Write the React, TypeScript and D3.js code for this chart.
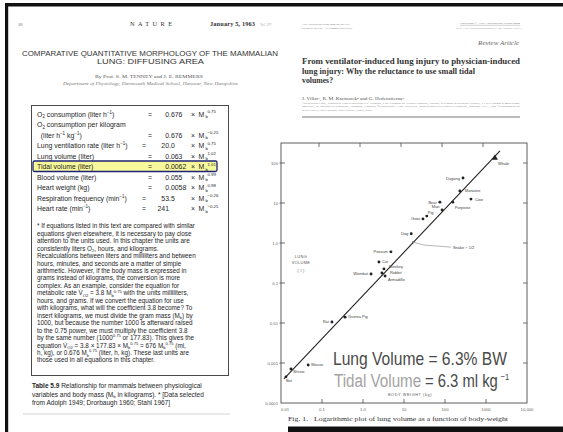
import React from 'react';
import * as d3 from 'd3';

const WIDTH = 563;
const HEIGHT = 432;

const SANS = "'Liberation Sans', Arial, Helvetica, sans-serif";
const SERIF = "'Liberation Serif', 'Times New Roman', serif";

// ---- Fig. 1: lung volume against body weight, log–log ----
const animals = ['Whale', 'Dugong', 'Manatee', 'Cow', 'Bear', 'Porpoise', 'Man', 'Pig', 'Goat', 'Dog', 'Possum', 'Cat', 'Monkey', 'Wombat', 'Rabbit', 'Armadillo', 'Guinea Pig', 'Rat', 'Mouse', 'Shrew', 'Bat'];
const bodyWeightKg = [1650, 275, 230, 430, 75, 155, 85, 36, 29, 15, 4.8, 2.45, 3.25, 1.57, 2.9, 3.45, 0.365, 0.175, 0.046, 0.0175, 0.0132];
const lungVolumeL = [133, 42, 20, 12.5, 10.5, 10.5, 6.7, 4.7, 4.0, 1.7, 0.6, 0.335, 0.225, 0.168, 0.178, 0.15, 0.014, 0.0106, 0.00089, 0.00071, 0.00045];
const snakeWeightKg = [16.5];
const snakeLungVolumeL = [1.05];
const fitWeightKg = [0.0118, 2190];
const fitLungVolumeL = [0.0004, 200];

const xTickValues = [0.01, 0.1, 1, 10, 100, 1000, 10000];
const xTickLabels = ['0.01', '0.1', '1.0', '10', '100', '1000', '10,000'];
const yTickValues = [0.0001, 0.001, 0.01, 0.1, 1, 10, 100];
const yTickLabels = ['0.0001', '0.001', '0.01', '0.1', '1.0', '10', '100'];

// label offsets from each point: dx, dy, anchor
const labelLayout: Record<string, [number, number, 'start' | 'end']> = {
  Whale: [3, 7, 'start'],
  Dugong: [-3, 1.5, 'end'],
  Manatee: [5, 1.5, 'start'],
  Cow: [4, 1.5, 'start'],
  Bear: [-3, 1.5, 'end'],
  Porpoise: [2, 6.5, 'start'],
  Man: [-2.5, -1.5, 'end'],
  Pig: [1, -2.5, 'start'],
  Goat: [-3, 1.5, 'end'],
  Dog: [-3, 1.5, 'end'],
  Possum: [-3, 1.5, 'end'],
  Cat: [3, 1.5, 'start'],
  Monkey: [5, -0.5, 'start'],
  Wombat: [-3, 1.5, 'end'],
  Rabbit: [8, 1, 'start'],
  Armadillo: [3, 5, 'start'],
  'Guinea Pig': [3, 1, 'start'],
  Rat: [-3, 1.5, 'end'],
  Mouse: [3, 0.5, 'start'],
  Shrew: [2, 4.5, 'start'],
  Bat: [0, 5.5, 'start'],
};

// ---- Table 5.9 ----
const tableLabels = [
  ['O_{2} consumption (liter h^{−1})'],
  ['O_{2} consumption per kilogram', '  (liter h^{−1} kg^{−1})'],
  ['Lung ventilation rate (liter h^{−1})'],
  ['Lung volume (liter)'],
  ['Tidal volume (liter)'],
  ['Blood volume (liter)'],
  ['Heart weight (kg)'],
  ['Respiration frequency (min^{−1})'],
  ['Heart rate (min^{−1})'],
];
const tableCoefficients = ['0.676', '0.676', '20.0', '0.063', '0.0062', '0.055', '0.0058', '53.5', '241'];
const tableExponents = ['0.75', '−0.25', '0.75', '1.02', '1.01', '0.99', '0.98', '−0.26', '−0.25'];
const highlightedRow = 'Tidal volume (liter)';

const tableNoteLines = [
  '* If equations listed in this text are compared with similar',
  'equations given elsewhere, it is necessary to pay close',
  'attention to the units used. In this chapter the units are',
  'consistently liters O_{2}, hours, and kilograms.',
  'Recalculations between liters and milliliters and between',
  'hours, minutes, and seconds are a matter of simple',
  'arithmetic. However, if the body mass is expressed in',
  'grams instead of kilograms, the conversion is more',
  'complex. As an example, consider the equation for',
  'metabolic rate V̇_{O2} = 3.8 M_{b}^{0.75} with the units milliliters,',
  'hours, and grams. If we convert the equation for use',
  'with kilograms, what will the coefficient 3.8 become? To',
  'insert kilograms, we must divide the gram mass (M_{b}) by',
  '1000, but because the number 1000 is afterward raised',
  'to the 0.75 power, we must multiply the coefficient 3.8',
  'by the same number (1000^{0.75} or 177.83). This gives the',
  'equation V̇_{O2} = 3.8 × 177.83 × M_{b}^{0.75} = 676 M_{b}^{0.75} (ml,',
  'h, kg), or 0.676 M_{b}^{0.75} (liter, h, kg). These last units are',
  'those used in all equations in this chapter.',
];
const tableCaptionLines = [
  ' Relationship for mammals between physiological',
  'variables and body mass (M_{b} in kilograms). * [Data selected',
  'from Adolph 1949; Drorbaugh 1960; Stahl 1967]',
];

const affiliationLines = [
  '¹Research Unit, Hospital Universitario Dr. Negrín, Las Palmas de Gran Canaria, Spain; Keenan Research Center, Li Ka Shing Knowledge',
  'Institute, St Michael’s Hospital, Toronto, Canada; ²Respiratory Care Services, Massachusetts General Hospital, Boston, USA, and ³Department of',
  'Medical Sciences, Clinical Physiology, Uppsala University, Uppsala, Sweden',
];

// text with ^{sup} and _{sub} runs
function rich(s: string, fs: number) {
  const parts: { t: string; k: 'n' | 'sup' | 'sub' }[] = [];
  const re = /(\^\{[^}]*\}|_\{[^}]*\})/g;
  let last = 0;
  let m: RegExpExecArray | null;
  while ((m = re.exec(s))) {
    if (m.index > last) parts.push({ t: s.slice(last, m.index), k: 'n' });
    parts.push({ t: m[0].slice(2, -1), k: m[0][0] === '^' ? 'sup' : 'sub' });
    last = re.lastIndex;
  }
  if (last < s.length) parts.push({ t: s.slice(last), k: 'n' });
  let cur = 0;
  return parts.map((p, i) => {
    const target = p.k === 'sup' ? -fs * 0.42 : p.k === 'sub' ? fs * 0.25 : 0;
    const dy = target - cur;
    cur = target;
    return (
      <tspan key={i} dy={dy !== 0 ? dy : undefined} fontSize={p.k === 'n' ? undefined : fs * 0.65}>
        {p.t}
      </tspan>
    );
  });
}

function LeftPage() {
  const rowFs = 6.9;
  const rowBase = 116.5;
  const rowStep = 10.5;
  let line = 0;
  const rows = tableLabels.map((labels, i) => {
    const start = line;
    line += labels.length;
    const valueLine = line - 1;
    const yb = rowBase + rowStep * valueLine;
    const [intPart, fracPart] = tableCoefficients[i].split('.');
    const eqX = intPart.length > 1 ? 144 : 150;
    const isHi = labels[0] === highlightedRow;
    return (
      <g key={i}>
        {isHi && (
          <rect x={33} y={yb - 8} width={184} height={10.5} rx={1.5} fill="#f4f47a" fillOpacity={0.75} stroke="#1c2374" strokeWidth={1.3} />
        )}
        {labels.map((l, j) => (
          <text key={j} x={37} y={rowBase + rowStep * (start + j)} fontSize={rowFs} style={{ whiteSpace: 'pre' }}>
            {rich(l, rowFs)}
          </text>
        ))}
        <text x={eqX} y={yb} fontSize={rowFs} textAnchor="middle">=</text>
        <text x={169} y={yb} fontSize={rowFs} textAnchor="end">{intPart}</text>
        {fracPart !== undefined && <text x={169} y={yb} fontSize={rowFs}>{'.' + fracPart}</text>}
        <text x={193} y={yb} fontSize={rowFs} textAnchor="middle">×</text>
        <text x={198.5} y={yb} fontSize={rowFs}>M</text>
        <text x={205.5} y={yb + 1.6} fontSize={4.3}>b</text>
        <text x={207.5} y={yb - 3.4} fontSize={4.3}>{tableExponents[i]}</text>
      </g>
    );
  });

  return (
    <g fontFamily={SANS} fill="#1e1e1e">
      {/* running head */}
      <text x={18} y={25.5} fontFamily={SERIF} fontSize={4.5} fill="#555">16</text>
      <text x={130} y={26} fontFamily={SERIF} fontSize={6.3} textLength={42} lengthAdjust="spacing" fill="#333">NATURE</text>
      <text x={210} y={26} fontFamily={SERIF} fontSize={6.3} fontWeight="bold" textLength={45} fill="#333">January 5, 1963</text>
      <text x={260} y={26} fontFamily={SERIF} fontSize={3.4} fill="#aaa">Vol. 197</text>

      {/* article head */}
      <text x={22} y={55.5} fontSize={7} textLength={256} lengthAdjust="spacingAndGlyphs" fill="#333">COMPARATIVE QUANTITATIVE MORPHOLOGY OF THE MAMMALIAN</text>
      <text x={97} y={63.8} fontSize={7} textLength={107} lengthAdjust="spacingAndGlyphs" fill="#333">LUNG: DIFFUSING AREA</text>
      <text x={95} y={77.5} fontFamily={SERIF} fontSize={4.4} textLength={108} lengthAdjust="spacingAndGlyphs" fill="#555">By Prof. S. M. TENNEY and J. E. REMMERS</text>
      <text x={63} y={85.3} fontFamily={SERIF} fontSize={3.8} fontStyle="italic" textLength={175} lengthAdjust="spacingAndGlyphs" fill="#777">Department of Physiology, Dartmouth Medical School, Hanover, New Hampshire</text>

      {/* table box */}
      <rect x={31.5} y={105.5} width={197} height={270} fill="none" stroke="#4a4a4a" strokeWidth={1} />
      {rows}
      {tableNoteLines.map((l, i) => (
        <text key={i} x={37} y={228.3 + 7.45 * i} fontSize={6.35}>
          {rich(l, 6.35)}
        </text>
      ))}

      {/* caption */}
      <text x={32} y={388.4} fontSize={6.5} style={{ whiteSpace: 'pre' }}>
        <tspan fontWeight="bold">Table 5.9</tspan>
        {rich(tableCaptionLines[0], 6.5)}
      </text>
      {tableCaptionLines.slice(1).map((l, i) => (
        <text key={i} x={32} y={396.8 + 8.4 * i} fontSize={6.5}>
          {rich(l, 6.5)}
        </text>
      ))}
      <line x1={23} x2={230} y1={414} y2={414} stroke="#c8c8c8" strokeWidth={0.8} />
    </g>
  );
}

function RightPageHead() {
  return (
    <g fontFamily={SERIF}>
      <text x={302} y={25.2} fontSize={2.8} textLength={48} lengthAdjust="spacingAndGlyphs" fill="#777">Acta Anaesthesiol Scand 2004; 48: 267–271</text>
      <text x={302} y={28.6} fontSize={2.8} textLength={50} lengthAdjust="spacingAndGlyphs" fill="#777">Printed in UK. All rights reserved</text>
      <text x={460} y={24.2} fontSize={2.8} textLength={60} lengthAdjust="spacingAndGlyphs" fill="#777">Copyright © Acta Anaesthesiol Scand 2004</text>
      <line x1={460} x2={520} y1={25.3} y2={25.3} stroke="#888" strokeWidth={0.4} />
      <text x={455} y={28.8} fontSize={2.8} textLength={67} lengthAdjust="spacingAndGlyphs" fill="#777">ACTA ANAESTHESIOLOGICA SCANDINAVICA</text>

      <text x={519} y={45} fontSize={7} fontStyle="italic" textAnchor="end" fill="#666">Review Article</text>

      <text x={302} y={63.6} fontSize={8.9} fontWeight="bold" textLength={218} lengthAdjust="spacingAndGlyphs" fill="#333">From ventilator-induced lung injury to physician-induced</text>
      <text x={302} y={73.6} fontSize={8.9} fontWeight="bold" textLength={173} lengthAdjust="spacingAndGlyphs" fill="#333">lung injury: Why the reluctance to use small tidal</text>
      <text x={302} y={83.3} fontSize={8.9} fontWeight="bold" textLength={31} lengthAdjust="spacingAndGlyphs" fill="#333">volumes?</text>

      <text x={302} y={99.6} fontSize={3.6} textLength={102} lengthAdjust="spacingAndGlyphs" fill="#555">J. Villar¹, R. M. Kacmarek² and G. Hedenstierna³</text>
      {affiliationLines.map((l, i) => (
        <text key={i} x={302} y={104 + 3.3 * i} fontSize={2.7} textLength={i === 2 ? 70 : 218} lengthAdjust="spacingAndGlyphs" fill="#888">{l}</text>
      ))}
      <line x1={302} x2={520} y1={117} y2={117} stroke="#555" strokeWidth={0.8} />

      <text x={288} y={421} fontSize={6} textLength={220} lengthAdjust="spacingAndGlyphs" fill="#333" style={{ whiteSpace: 'pre' }}>Fig. 1.   Logarithmic plot of lung volume as a function of body-weight</text>
    </g>
  );
}

function LungPlot() {
  const x = d3.scaleLog().domain([0.01, 10000]).range([281, 527]);
  const y = d3.scaleLog().domain([1e-4, Math.pow(10, 2.5)]).range([403, 143]);
  const [x0, x1] = x.range();
  const [y0, y1] = y.range();

  const fitPath = d3.line<number>()
    .x((_, i) => x(fitWeightKg[i]))
    .y((_, i) => y(fitLungVolumeL[i]))(fitWeightKg) || '';
  const tri = d3.symbol(d3.symbolTriangle, 16)() || '';

  const innerX = xTickValues.slice(1, -1);
  const innerY = yTickValues.slice(1);
  const axis = '#4d4d4d';

  const sx = x(snakeWeightKg[0]);
  const sy = y(snakeLungVolumeL[0]);

  return (
    <g fontFamily={SANS}>
      {/* frame */}
      <rect x={x0} y={y1} width={x1 - x0} height={y0 - y1} fill="none" stroke={axis} strokeWidth={0.9} />
      {innerX.map((v) => (
        <g key={'xt' + v}>
          <line x1={x(v)} x2={x(v)} y1={y0} y2={y0 - 4} stroke={axis} strokeWidth={0.8} />
          <line x1={x(v) - 3} x2={x(v) - 3} y1={y1} y2={y1 + 4} stroke={axis} strokeWidth={0.8} />
        </g>
      ))}
      {innerY.map((v) => (
        <g key={'yt' + v}>
          <line x1={x0 - 1.5} x2={x0 + 4} y1={y(v)} y2={y(v)} stroke={axis} strokeWidth={0.8} />
          <line x1={x1} x2={x1 - 4} y1={y(v)} y2={y(v)} stroke={axis} strokeWidth={0.8} />
        </g>
      ))}
      {xTickValues.map((v, i) => (
        <text key={'xl' + v} x={x(v) + (i === 0 ? 4 : 0)} y={410.5} fontSize={4.2} textAnchor="middle" fill="#666">{xTickLabels[i]}</text>
      ))}
      {yTickValues.map((v, i) => (
        <text key={'yl' + v} x={x0 - 3} y={y(v) + 1.5} fontSize={4.2} textAnchor="end" fill="#666">{yTickLabels[i]}</text>
      ))}

      {/* axis titles */}
      <g fontSize={4} fill="#555" textAnchor="middle" letterSpacing={0.3}>
        <text x={301} y={257.5}>LUNG</text>
        <text x={301} y={264.3}>VOLUME</text>
        <text x={301} y={271.5}>( l )</text>
      </g>
      <text x={410} y={395.5} fontSize={3.8} fill="#555" textAnchor="middle" letterSpacing={0.6}>BODY WEIGHT (kg)</text>

      {/* regression line */}
      <path d={fitPath} fill="none" stroke="#222" strokeWidth={1.1} />

      {/* animals */}
      {animals.map((name, i) => {
        const px = x(bodyWeightKg[i]);
        const py = y(lungVolumeL[i]);
        const [dx, dy, anchor] = labelLayout[name];
        return (
          <g key={name}>
            {name === 'Whale' ? (
              <path d={tri} transform={`translate(${px},${py})`} fill="#222" />
            ) : (
              <circle cx={px} cy={py} r={1.45} fill="#222" />
            )}
            <text x={px + dx} y={py + dy} fontSize={4} textAnchor={anchor} fill="#444">{name}</text>
          </g>
        );
      })}

      {/* snake, marked on the line */}
      <circle cx={sx} cy={sy} r={1} fill="#555" />
      <polyline points={`${sx},${sy} ${sx + 12},${sy + 3} ${sx + 38},${sy + 5}`} fill="none" stroke="#888" strokeWidth={0.6} />
      <text x={sx + 40} y={sy + 6.5} fontSize={4} fill="#444">Snake ÷ 1/2</text>

      {/* summary, set in a horizontally condensed face */}
      <text transform="translate(333,365) scale(0.822,1)" fontSize={19} fill="#4a4a4a">Lung Volume = 6.3% BW</text>
      <text transform="translate(334,386.5) scale(0.8,1)" fontSize={19} fill="#a3a3a3">Tidal Volume</text>
      <text transform="translate(425,386.5) scale(0.78,1)" fontSize={19} fill="#4a4a4a">= 6.3 ml kg</text>
      <text transform="translate(500.5,379.5) scale(0.8,1)" fontSize={9.5} fill="#4a4a4a">−1</text>
    </g>
  );
}

export default function App() {
  return (
    <svg width={WIDTH} height={HEIGHT} viewBox={`0 0 ${WIDTH} ${HEIGHT}`} style={{ position: 'absolute', left: 0, top: 0, background: '#fff' }}>
      <rect x={0} y={0} width={WIDTH} height={HEIGHT} fill="#fff" />
      <LeftPage />
      <RightPageHead />
      <LungPlot />
      {/* page edges */}
      <rect x={5} y={3} width={558} height={3.5} fill="#111" />
      <rect x={5} y={3} width={3.2} height={429} fill="#111" />
      <rect x={288} y={426.5} width={275} height={5.5} fill="#111" />
    </svg>
  );
}
